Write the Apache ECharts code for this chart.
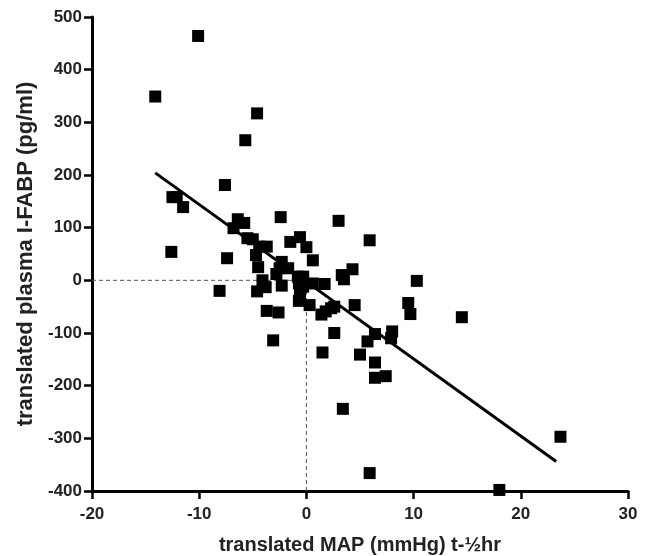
<!DOCTYPE html>
<html>
<head>
<meta charset="utf-8">
<style>
  html, body { margin: 0; padding: 0; background: #fff; }
  #chart { width: 648px; height: 556px; }
</style>
<script src="https://cdn.jsdelivr.net/npm/echarts@6/dist/echarts.min.js"></script>
</head>
<body>
<div id="chart"></div>
<script>
  // translated MAP vs translated plasma I-FABP
  let mapX = [-14.1, -10.1, -4.6, -5.7, -7.6, -12.5, -12.1, -11.5, -12.6, -7.4,
    -2.4, 3.0, -6.4, -5.8, -6.8, -5.5, -5.0, -1.5, -0.6, 0.0,
    -4.4, -3.7, -4.7, 0.6, 5.9, -4.5, -2.3, -2.5, -1.7, -2.8,
    4.3, 3.3, 3.5, -4.1, -3.8, -8.1, -4.6, -2.3, -0.8, -0.3,
    -0.7, -0.3, 0.6, 1.7, -0.6, -0.7, 0.3, 4.5, -3.7, -2.6,
    1.4, 1.8, 2.3, 2.6, 2.6, -3.1, 5.7, 6.4, 10.3, 9.5,
    9.7, 14.5, 8.0, 7.9, 1.5, 5.0, 6.4, 6.4, 7.4, 3.4,
    23.7, 5.9, 18.0]
  let fabpY = [349, 464, 317, 266, 181, 158, 158, 139, 54, 42,
    120, 113, 116, 109, 99, 80, 78, 73, 82, 63,
    64, 64, 48, 38, 76, 25, 35, 23, 23, 12,
    21, 10, 2, 0, -13, -20, -21, -10, 7, 7,
    -6, -12, -6, -7, -28, -39, -47, -47, -58, -61,
    -65, -59, -53, -50, -100, -114, -116, -102, -1, -43,
    -64, -70, -97, -110, -137, -141, -156, -185, -182, -244,
    -297, -366, -398]

  // regression line ends
  let fitX = [-14.1, 23.3]
  let fitY = [204, -344]

  let xTicks = [-20, -10, 0, 10, 20, 30]
  let yTicks = [-400, -300, -200, -100, 0, 100, 200, 300, 400, 500]

  let points = mapX.map((x, i) => [x, fabpY[i]])
  let fit = fitX.map((x, i) => [x, fitY[i]])

  let font = 'Liberation Sans, Arial, sans-serif'
  let chart = echarts.init(document.getElementById('chart'))

  /*坐标轴公共样式*/
  let axisBase = {
    axisLine: { onZero: false, lineStyle: { color: '#000', width: 3 } },
    axisTick: { length: 8, lineStyle: { color: '#000', width: 2.5 } },
    splitLine: { show: false },
    axisLabel: { color: '#222', fontFamily: font, fontWeight: 'bold', fontSize: 17 },
    nameLocation: 'middle',
    nameTextStyle: { color: '#222', fontFamily: font, fontWeight: 'bold', fontSize: 20 }
  }

  chart.setOption({
    animation: false,
    grid: { left: 92, right: 20, top: 17, bottom: 65, outerBoundsMode: 'none' },
    xAxis: Object.assign({}, axisBase, {
      type: 'value',
      min: xTicks[0], max: xTicks[xTicks.length - 1], interval: 10,
      name: 'translated MAP (mmHg) t-½hr',
      nameGap: 44,
      axisLabel: Object.assign({}, axisBase.axisLabel, { margin: 15 })
    }),
    yAxis: Object.assign({}, axisBase, {
      type: 'value',
      min: yTicks[0], max: yTicks[yTicks.length - 1], interval: 100,
      name: 'translated plasma I-FABP (pg/ml)',
      nameGap: 52,
      nameTextStyle: Object.assign({}, axisBase.nameTextStyle, { fontSize: 22 }),
      axisLabel: Object.assign({}, axisBase.axisLabel, { margin: 10 })
    }),
    series: [
      {
        type: 'line',
        data: [[xTicks[0], 0], [0, 0]],
        symbol: 'none',
        lineStyle: { color: '#555', width: 1, type: [4, 3] },
        z: 1
      },
      {
        type: 'line',
        data: [[0, yTicks[0]], [0, 0]],
        symbol: 'none',
        lineStyle: { color: '#555', width: 1, type: [4, 3] },
        z: 1
      },
      {
        type: 'line',
        data: fit,
        symbol: 'none',
        lineStyle: { color: '#000', width: 3 },
        z: 2
      },
      {
        type: 'scatter',
        data: points,
        symbol: 'rect',
        symbolSize: 12,
        itemStyle: { color: '#000', opacity: 1 },
        z: 3
      }
    ]
  })
</script>
</body>
</html>
